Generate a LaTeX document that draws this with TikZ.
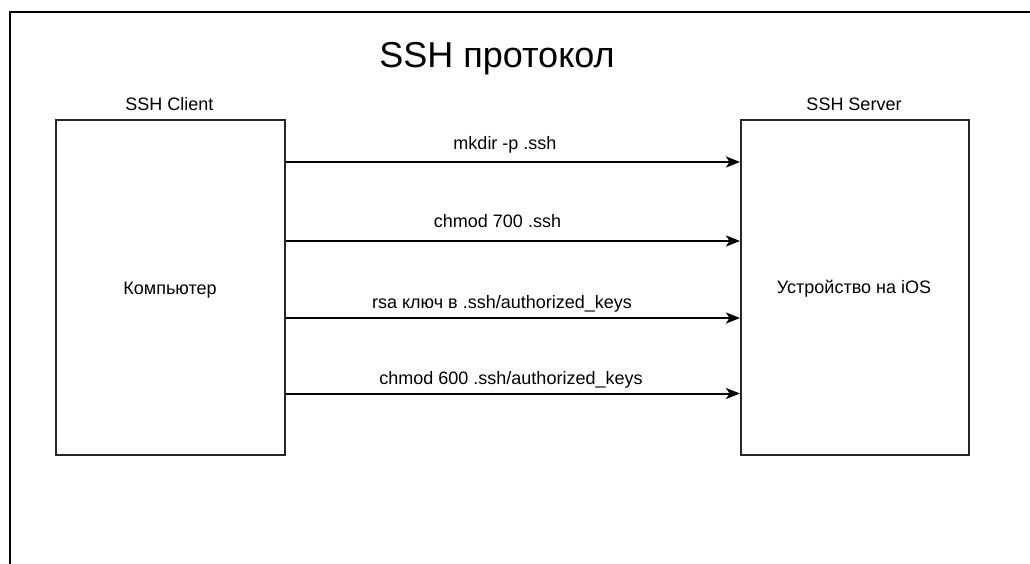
\documentclass[tikz,border=0pt]{standalone}
\usepackage{fontspec}
\setmainfont{Liberation Sans}
\usetikzlibrary{arrows.meta}
\begin{document}
\begin{tikzpicture}[x=1pt,y=-1pt,
  box/.style={draw=black!85,line width=2pt,minimum width=#1,minimum height=335pt,inner sep=0pt,anchor=north west},
  txt/.style={anchor=base,inner sep=0pt,font=\fontsize{18}{22}\selectfont},
  conn/.style={draw=black,line width=2pt,-{Stealth[length=14pt,width=11pt,inset=3.5pt]}}
]
\useasboundingbox (0,0) rectangle (1030,564);
\draw[line width=2pt] (10,564) -- (10,12.5) -- (1030,12.5);
\node[anchor=base,inner sep=0pt,font=\fontsize{36}{42}\selectfont] (title) at (497,68) {SSH протокол};
\node[box=229pt] (client) at (55,119) {};
\node[box=228pt] (server) at (740,119) {};
\node[txt] (clientlbl) at (169.5,111) {SSH Client};
\node[txt] (serverlbl) at (854,111) {SSH Server};
\node[txt] (comp) at (170,294) {Компьютер};
\node[txt] (dev) at (854,293) {Устройство на iOS};
\draw[conn] (client.east |- 0,162) -- (server.west |- 0,162);
\draw[conn] (client.east |- 0,241) -- (server.west |- 0,241);
\draw[conn] (client.east |- 0,318) -- (server.west |- 0,318);
\draw[conn] (client.east |- 0,393.5) -- (server.west |- 0,393.5);
\node[txt] (l1) at (505,150) {mkdir -p .ssh};
\node[txt] (l2) at (497.5,227) {chmod 700 .ssh};
\node[txt] (l3) at (502,308) {rsa ключ в .ssh/authorized\_keys};
\node[txt] (l4) at (511,384) {chmod 600 .ssh/authorized\_keys};
\end{tikzpicture}
\end{document}
